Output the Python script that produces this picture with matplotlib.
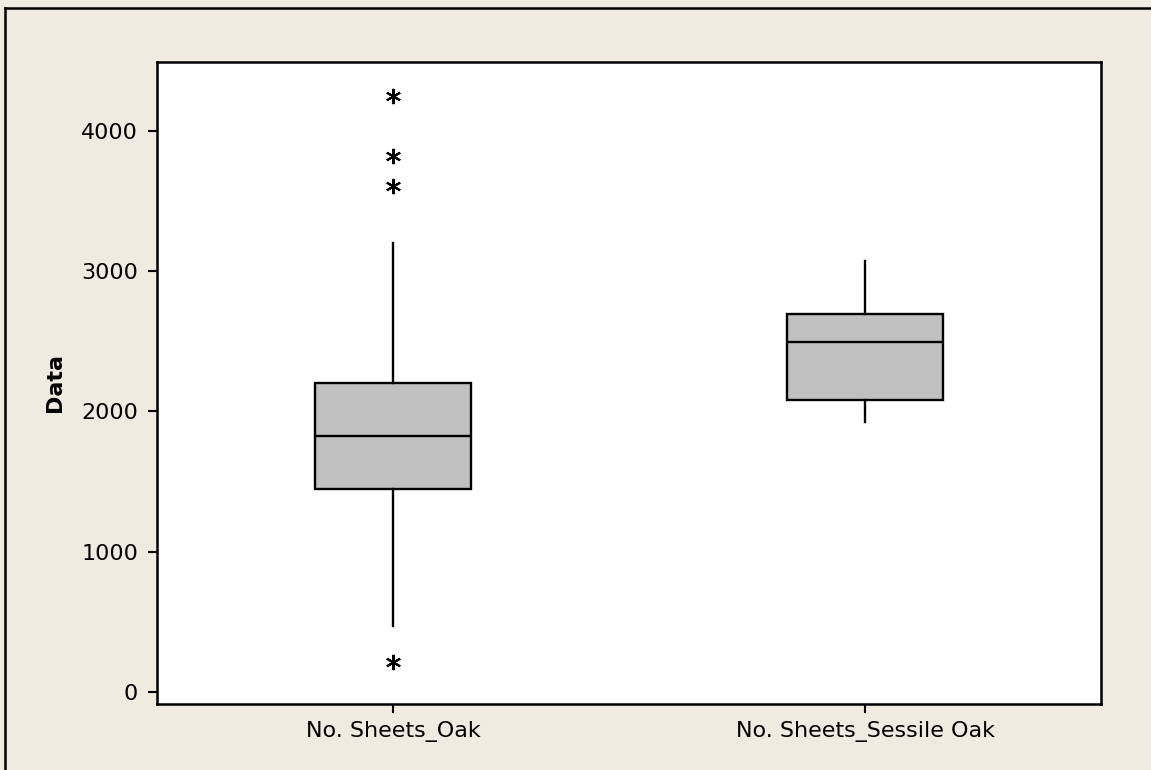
import matplotlib
matplotlib.use("Agg")
import matplotlib.pyplot as plt
from matplotlib.lines import Line2D

# values
labels = ["No. Sheets_Oak", "No. Sheets_Sessile Oak"]
q1 = [1450, 2085]
med = [1825, 2495]
q3 = [2200, 2695]
whislo = [470, 1925]
whishi = [3200, 3075]
fliers = [[4250, 3825, 3610, 210], []]

bg = "#efebe1"
plt.rcParams["font.family"] = ["DejaVu Sans"]

fig = plt.figure(figsize=(11.51, 7.70), dpi=100, facecolor=bg)
ax = fig.add_axes([0.1364, 0.0857, 0.8202, 0.8338])
ax.set_facecolor("white")

stats = []
for i in range(len(labels)):
    stats.append(dict(q1=q1[i], med=med[i], q3=q3[i], whislo=whislo[i],
                      whishi=whishi[i], fliers=fliers[i], label=labels[i]))

ax.bxp(stats, positions=[1, 2], widths=0.33, patch_artist=True, showcaps=False,
       boxprops=dict(facecolor="#c0c0c0", edgecolor="black", linewidth=1.7),
       medianprops=dict(color="black", linewidth=1.7),
       whiskerprops=dict(color="black", linewidth=1.7),
       flierprops=dict(marker=(6, 2, 0), markersize=11, markeredgecolor="black",
                       markeredgewidth=1.5, linestyle="none"))

ax.set_xlim(0.5, 2.5)
ax.set_ylim(-86, 4492)
ax.set_yticks([0, 1000, 2000, 3000, 4000])
ax.set_xticks([1, 2])
ax.set_xticklabels(labels)
ax.tick_params(direction="out", length=6.5, width=1.5, labelsize=16)
ax.tick_params(axis="y", pad=7)
ax.tick_params(axis="x", pad=5.5)
for s in ax.spines.values():
    s.set_linewidth(1.8)
ax.set_ylabel("Data", fontsize=16, fontweight="bold", labelpad=12)

# outer frame of the graph window
fig.add_artist(Line2D([5 / 1151, 5 / 1151], [0, 1 - 8 / 770], color="black", lw=1.8,
                      transform=fig.transFigure))
fig.add_artist(Line2D([5 / 1151, 1], [1 - 8 / 770, 1 - 8 / 770], color="black", lw=1.8,
                      transform=fig.transFigure))

fig.savefig("out.png", dpi=100, facecolor=bg)
